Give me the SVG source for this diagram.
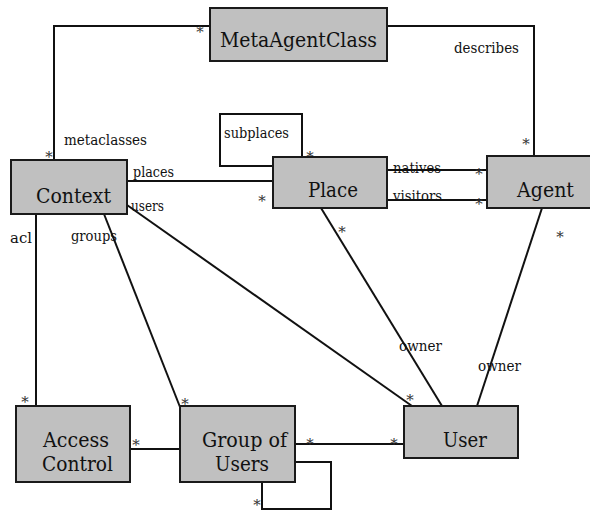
<svg xmlns="http://www.w3.org/2000/svg" width="590" height="511" viewBox="0 0 590 511">
<style>
.box{fill:#c0c0c0;stroke:#1a1a1a;stroke-width:2}
text{font-family:'DejaVu Serif',serif}
.name{font-size:21px;fill:#111;text-anchor:middle}
.lbl{font-size:15px;fill:#111}
.st{font-size:15px;fill:#333;text-anchor:middle}
.ln{fill:none;stroke:#111;stroke-width:2}
</style>
<rect width="590" height="511" fill="#fff"/>
<g id="connectors">
  <polyline class="ln" points="54,160 54,26 210,26"/>
  <polyline class="ln" points="387,26 534,26 534,156"/>
  <polyline class="ln" points="273,166 220,166 220,114 302,114 302,157"/>
  <line class="ln" x1="127" y1="181" x2="273" y2="181"/>
  <line class="ln" x1="387" y1="170" x2="487" y2="170"/>
  <line class="ln" x1="387" y1="200" x2="487" y2="200"/>
  <line class="ln" x1="127" y1="205" x2="412" y2="406"/>
  <line class="ln" x1="104" y1="214" x2="180" y2="407"/>
  <line class="ln" x1="36" y1="214" x2="36" y2="406"/>
  <line class="ln" x1="321" y1="208" x2="442" y2="406"/>
  <line class="ln" x1="542" y1="208" x2="477" y2="406"/>
  <line class="ln" x1="130" y1="449" x2="180" y2="449"/>
  <line class="ln" x1="295" y1="444" x2="404" y2="444"/>
  <polyline class="ln" points="295,462 331,462 331,509 262,509 262,482"/>
  <text class="lbl" x="64" y="145" textLength="83" lengthAdjust="spacingAndGlyphs">metaclasses</text>
  <text class="lbl" x="224" y="138" textLength="65" lengthAdjust="spacingAndGlyphs">subplaces</text>
  <text class="lbl" x="133" y="177" textLength="41" lengthAdjust="spacingAndGlyphs">places</text>
  <text class="lbl" x="131" y="211" textLength="33" lengthAdjust="spacingAndGlyphs">users</text>
  <text class="lbl" x="10" y="243" textLength="22" lengthAdjust="spacingAndGlyphs">acl</text>
  <text class="lbl" x="71" y="241" textLength="46" lengthAdjust="spacingAndGlyphs">groups</text>
  <text class="lbl" x="393" y="173" textLength="48" lengthAdjust="spacingAndGlyphs">natives</text>
  <text class="lbl" x="393" y="201" textLength="49" lengthAdjust="spacingAndGlyphs">visitors</text>
  <text class="lbl" x="454" y="53" textLength="65" lengthAdjust="spacingAndGlyphs">describes</text>
  <text class="lbl" x="399" y="351" textLength="43" lengthAdjust="spacingAndGlyphs">owner</text>
  <text class="lbl" x="478" y="371" textLength="43" lengthAdjust="spacingAndGlyphs">owner</text>
  <text class="st" x="200" y="37">*</text>
  <text class="st" x="49" y="162">*</text>
  <text class="st" x="310" y="162">*</text>
  <text class="st" x="262" y="206">*</text>
  <text class="st" x="479" y="179">*</text>
  <text class="st" x="479" y="209">*</text>
  <text class="st" x="526" y="149">*</text>
  <text class="st" x="342" y="237">*</text>
  <text class="st" x="560" y="242">*</text>
  <text class="st" x="25" y="407">*</text>
  <text class="st" x="185" y="409">*</text>
  <text class="st" x="410" y="405">*</text>
  <text class="st" x="136" y="450">*</text>
  <text class="st" x="310" y="449">*</text>
  <text class="st" x="394" y="449">*</text>
  <text class="st" x="257" y="510">*</text>
</g>
<g id="MetaAgentClass">
  <rect class="box" x="210" y="8" width="177" height="53"/>
  <text class="name" x="298.5" y="47" textLength="157" lengthAdjust="spacingAndGlyphs">MetaAgentClass</text>
</g>
<g id="Context">
  <rect class="box" x="11" y="160" width="116" height="54"/>
  <text class="name" x="73.5" y="203" textLength="75" lengthAdjust="spacingAndGlyphs">Context</text>
</g>
<g id="Place">
  <rect class="box" x="273" y="157" width="114" height="51"/>
  <text class="name" x="333" y="197" textLength="50" lengthAdjust="spacingAndGlyphs">Place</text>
</g>
<g id="Agent">
  <rect class="box" x="487" y="156" width="116" height="52"/>
  <text class="name" x="545.5" y="197" textLength="57" lengthAdjust="spacingAndGlyphs">Agent</text>
</g>
<g id="AccessControl">
  <rect class="box" x="16" y="406" width="114" height="76"/>
  <text class="name" x="76" y="447" textLength="66" lengthAdjust="spacingAndGlyphs">Access</text>
  <text class="name" x="77.5" y="471" textLength="71" lengthAdjust="spacingAndGlyphs">Control</text>
</g>
<g id="GroupOfUsers">
  <rect class="box" x="180" y="406" width="115" height="76"/>
  <text class="name" x="244.5" y="447" textLength="85" lengthAdjust="spacingAndGlyphs">Group of</text>
  <text class="name" x="242" y="471" textLength="54" lengthAdjust="spacingAndGlyphs">Users</text>
</g>
<g id="User">
  <rect class="box" x="404" y="406" width="114" height="52"/>
  <text class="name" x="465" y="447" textLength="44" lengthAdjust="spacingAndGlyphs">User</text>
</g>
</svg>
